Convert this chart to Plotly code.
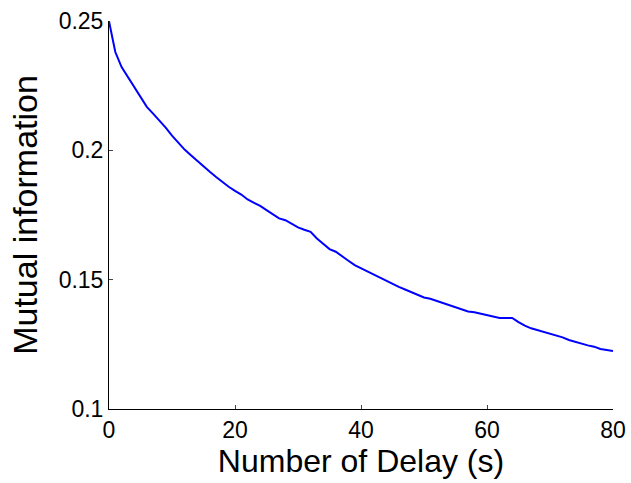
import plotly.graph_objects as go

delay = list(range(0, 81))
mutual_info = [
    0.2499, 0.2380, 0.2322, 0.2284, 0.2248, 0.2209, 0.2168, 0.2142, 0.2116, 0.2088,
    0.2057, 0.2029, 0.2003, 0.1981, 0.1959, 0.1936, 0.1917, 0.1897, 0.1877, 0.1859,
    0.1843, 0.1829, 0.1810, 0.1798, 0.1785, 0.1769, 0.1752, 0.1737, 0.1730, 0.1717,
    0.1702, 0.1693, 0.1685, 0.1659, 0.1640, 0.1618, 0.1608, 0.1592, 0.1573, 0.1556,
    0.1544, 0.1530, 0.1520, 0.1505, 0.1494, 0.1483, 0.1472, 0.1462, 0.1451, 0.1440,
    0.1431, 0.1426, 0.1418, 0.1410, 0.1402, 0.1395, 0.1386, 0.1377, 0.1374, 0.1368,
    0.1362, 0.1357, 0.1352, 0.1352, 0.1352, 0.1336, 0.1322, 0.1312, 0.1305, 0.1299,
    0.1290, 0.1282, 0.1277, 0.1267, 0.1259, 0.1254, 0.1246, 0.1241, 0.1232, 0.1228,
    0.1224,
]
x_ticks = [0, 20, 40, 60, 80]
y_ticks = [0.1, 0.15, 0.2, 0.25]
y_tick_text = ["0.1", "0.15", "0.2", "0.25"]

fig = go.Figure()
fig.add_trace(go.Scatter(x=delay, y=mutual_info, mode="lines",
                         line=dict(color="#0000ff", width=2), showlegend=False))

font = "Liberation Sans"
fig.update_layout(
    width=631, height=483,
    margin=dict(l=109, r=18, t=21, b=74, autoexpand=False),
    paper_bgcolor="white", plot_bgcolor="white",
    font=dict(family=font, color="black"),
    xaxis=dict(range=[0, 80], tickvals=x_ticks, showgrid=False, zeroline=False,
               automargin=False,
               showline=True, linecolor="black", linewidth=1,
               ticks="inside", ticklen=4, tickcolor="#444", tickwidth=1,
               tickfont=dict(size=23, family=font, color="black"),
               title=dict(text="Number of Delay (s)", font=dict(size=32, family=font, color="black"), standoff=2)),
    yaxis=dict(range=[0.1, 0.25], tickvals=y_ticks, ticktext=y_tick_text, showgrid=False, zeroline=False,
               automargin=False,
               showline=True, linecolor="black", linewidth=1,
               ticks="inside", ticklen=4, tickcolor="#444", tickwidth=1,
               tickfont=dict(size=23, family=font, color="black"),
               title=dict(text="Mutual information", font=dict(size=34, family=font, color="black"), standoff=10)),
)

fig.write_html("out.html")
